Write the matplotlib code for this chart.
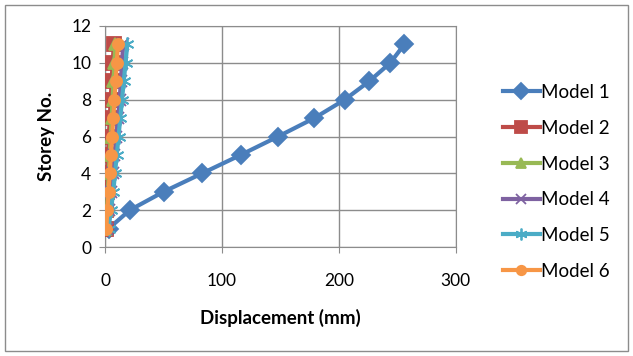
import matplotlib
matplotlib.use("Agg")
import matplotlib.pyplot as plt
from matplotlib.patches import Rectangle

plt.rcParams['font.family'] = ['Lato', 'DejaVu Sans']

storeys = [1, 2, 3, 4, 5, 6, 7, 8, 9, 10, 11]
model1 = [3, 21, 50, 83, 116, 148, 179, 205, 226, 244, 256]
model2 = [0.5, 1.0, 1.5, 2.0, 2.5, 3.2, 4.0, 4.8, 5.6, 6.5, 7.5]
model3 = [0.8, 1.6, 2.4, 3.2, 4.0, 4.8, 5.6, 6.4, 7.2, 8.0, 8.8]
model4 = [2, 3.5, 5, 6.5, 8, 9.5, 11, 12.5, 13.5, 14.5, 15.5]
model5 = [3, 5, 7, 8.5, 10, 11.5, 13, 14.5, 16, 17.5, 19]
model6 = [1, 2, 3, 4, 5, 6, 7, 8, 9, 10, 11]
labels = ['Model 1', 'Model 2', 'Model 3', 'Model 4', 'Model 5', 'Model 6']
colors = ['#4A7EBB', '#BE4B48', '#98B954', '#7E62A1', '#4BACC6', '#F79646']
markers = ['D', 's', '^', 'x', '*', 'o']
msizes = [9, 10, 9, 9, 10, 8]

fig = plt.figure(figsize=(6.33, 3.56), dpi=100)
fig.patches.append(Rectangle((0.008, 0.014), 0.984, 0.972, transform=fig.transFigure,
                             fill=False, edgecolor='#8c8c8c', linewidth=1.0))
ax = fig.add_axes([0.166, 0.306, 0.554, 0.621])

series = [model1, model2, model3, model4, model5, model6]
handles = []
for vals, lab, c, m, ms in zip(series, labels, colors, markers, msizes):
    mk = (6, 2, 0) if m == '*' else m
    h, = ax.plot(vals, storeys, color=c, linewidth=3.0, marker=mk, markersize=ms,
                 markerfacecolor=c, markeredgecolor=c, markeredgewidth=1.3,
                 label=lab, zorder=3)
    handles.append(h)

ax.set_xlim(0, 300)
ax.set_ylim(0, 12)
ax.set_xticks([0, 100, 200, 300])
ax.set_yticks([0, 2, 4, 6, 8, 10, 12])
ax.grid(True, color='#8c8c8c', linewidth=1.0)
ax.set_axisbelow(True)
for s in ax.spines.values():
    s.set_color('#8c8c8c')
ax.tick_params(axis='both', colors='#8c8c8c', labelcolor='black', labelsize=12.5, length=4)
ax.tick_params(axis='x', pad=15)
ax.tick_params(axis='y', pad=6)
ax.set_xlabel('Displacement (mm)', fontsize=13.5, fontweight='bold', labelpad=14)
ax.set_ylabel('Storey No.', fontsize=13.5, fontweight='bold', labelpad=12)

leg = fig.legend(handles=handles, labels=labels, loc='upper left',
                 bbox_to_anchor=(0.782, 0.785), frameon=False, fontsize=13.5,
                 handlelength=2.0, handletextpad=0.05, labelspacing=1.0, borderaxespad=0,
                 markerscale=0.85)

fig.savefig('out.png', dpi=100)
